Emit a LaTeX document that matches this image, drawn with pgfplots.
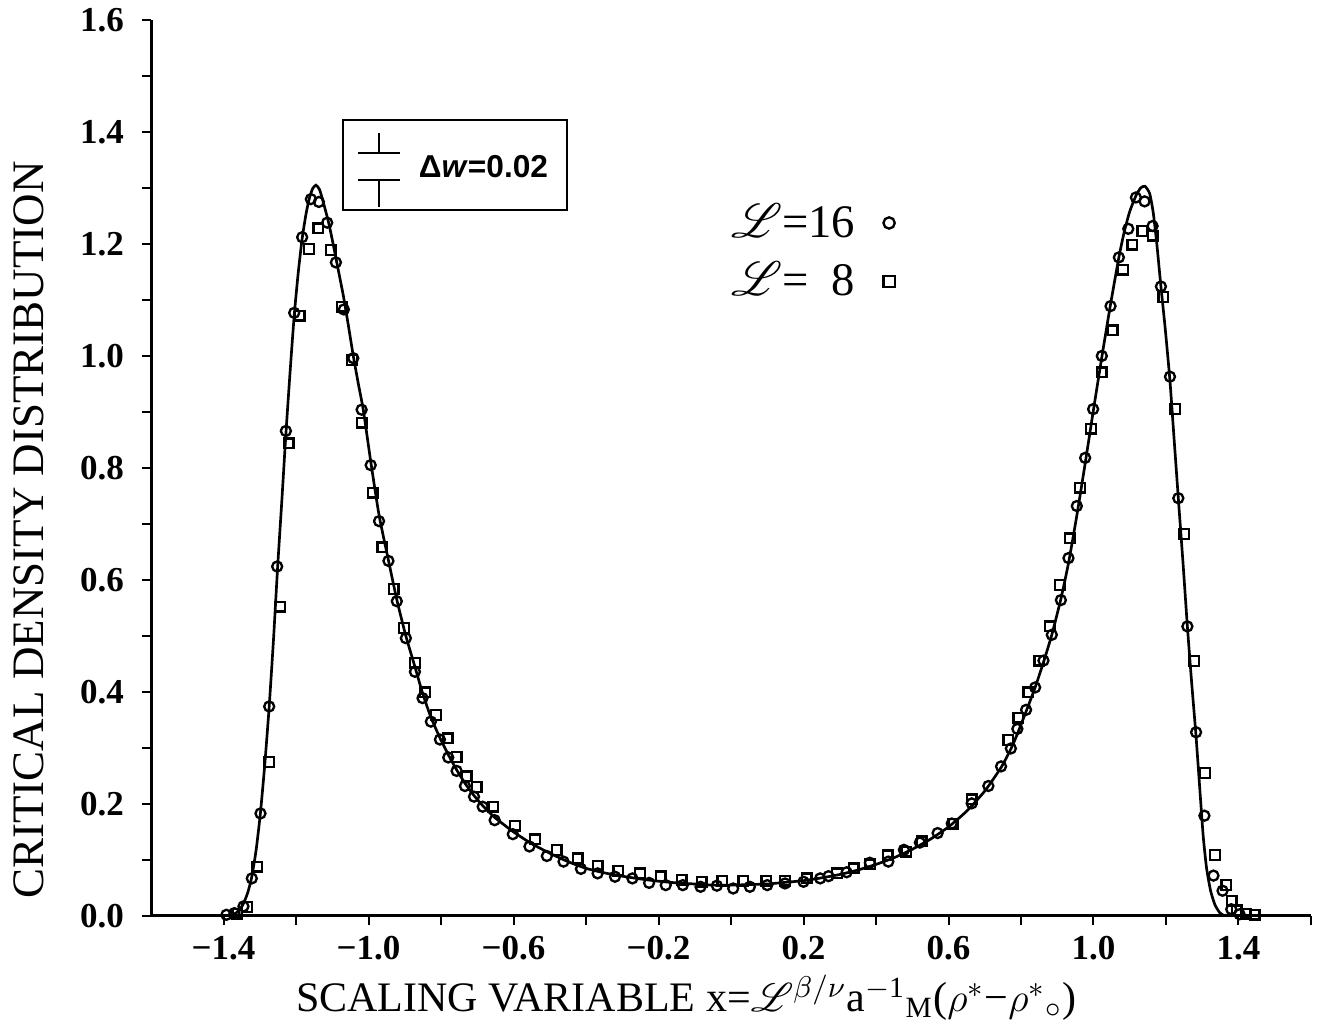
\documentclass[border=0pt]{standalone}
\usepackage{fontspec}
\setmainfont{Liberation Serif}
\newfontfamily\sansfont{Liberation Sans}
\usepackage{mathrsfs}
\usepackage{pgfplots}
\pgfplotsset{compat=1.18}
\usepackage{pgfplotstable}

\pgfplotstableread{
x y
-1.385 0.000
-1.372 0.003
-1.358 0.009
-1.345 0.022
-1.333 0.042
-1.322 0.070
-1.310 0.118
-1.298 0.185
-1.286 0.272
-1.274 0.374
-1.262 0.495
-1.251 0.620
-1.239 0.743
-1.228 0.860
-1.216 0.975
-1.205 1.072
-1.194 1.148
-1.183 1.210
-1.172 1.255
-1.163 1.282
-1.154 1.299
-1.145 1.305
-1.135 1.297
-1.125 1.275
-1.110 1.238
-1.097 1.198
-1.083 1.152
-1.069 1.106
-1.055 1.052
-1.042 1.000
-1.028 0.950
-1.014 0.902
-0.994 0.812
-0.971 0.716
-0.945 0.635
-0.922 0.565
-0.897 0.500
-0.872 0.445
-0.851 0.398
-0.828 0.355
-0.803 0.318
-0.780 0.288
-0.757 0.261
-0.734 0.237
-0.709 0.215
-0.685 0.197
-0.652 0.176
-0.600 0.150
-0.550 0.129
-0.500 0.112
-0.450 0.097
-0.400 0.085
-0.350 0.077
-0.300 0.071
-0.250 0.066
-0.200 0.062
-0.150 0.059
-0.100 0.057
-0.050 0.055
0.000 0.055
0.050 0.056
0.100 0.057
0.150 0.060
0.200 0.063
0.250 0.068
0.300 0.074
0.350 0.082
0.400 0.092
0.450 0.104
0.500 0.119
0.550 0.137
0.600 0.159
0.650 0.187
0.700 0.223
0.745 0.265
0.772 0.298
0.790 0.325
0.814 0.365
0.839 0.408
0.862 0.453
0.885 0.502
0.910 0.566
0.931 0.630
0.954 0.715
0.977 0.808
0.999 0.900
1.023 0.998
1.047 1.092
1.070 1.176
1.085 1.222
1.100 1.258
1.117 1.286
1.130 1.300
1.142 1.303
1.155 1.290
1.165 1.255
1.175 1.198
1.186 1.124
1.198 1.048
1.211 0.955
1.222 0.855
1.234 0.746
1.247 0.630
1.259 0.517
1.271 0.415
1.283 0.320
1.294 0.220
1.303 0.140
1.312 0.085
1.323 0.045
1.335 0.020
1.348 0.006
1.362 0.000
}\curvetable

\pgfplotstableread{
x y
-1.392 0.002
-1.370 0.005
-1.345 0.017
-1.322 0.067
-1.298 0.183
-1.274 0.374
-1.252 0.624
-1.228 0.866
-1.205 1.077
-1.183 1.212
-1.159 1.280
-1.137 1.275
-1.114 1.238
-1.090 1.167
-1.068 1.083
-1.042 0.996
-1.019 0.904
-0.994 0.805
-0.971 0.705
-0.945 0.634
-0.922 0.562
-0.897 0.496
-0.872 0.436
-0.851 0.389
-0.828 0.347
-0.803 0.315
-0.780 0.283
-0.757 0.259
-0.734 0.232
-0.709 0.213
-0.685 0.195
-0.652 0.171
-0.602 0.146
-0.556 0.124
-0.508 0.107
-0.462 0.097
-0.414 0.084
-0.368 0.076
-0.320 0.070
-0.272 0.067
-0.226 0.059
-0.180 0.055
-0.133 0.055
-0.084 0.052
-0.039 0.054
0.006 0.049
0.052 0.052
0.100 0.055
0.149 0.058
0.200 0.061
0.246 0.067
0.269 0.071
0.319 0.078
0.383 0.095
0.434 0.097
0.477 0.118
0.521 0.131
0.570 0.148
0.609 0.165
0.664 0.201
0.710 0.232
0.745 0.267
0.772 0.299
0.790 0.334
0.814 0.368
0.839 0.408
0.862 0.456
0.885 0.502
0.910 0.564
0.931 0.639
0.954 0.732
0.977 0.818
0.999 0.905
1.023 1.000
1.047 1.089
1.070 1.176
1.096 1.227
1.117 1.283
1.141 1.276
1.163 1.232
1.186 1.124
1.211 0.963
1.234 0.746
1.259 0.517
1.283 0.328
1.306 0.179
1.331 0.072
1.356 0.045
1.380 0.012
1.403 0.003
}\circtable

\pgfplotstableread{
x y
-1.362 0.004
-1.335 0.016
-1.307 0.088
-1.274 0.275
-1.244 0.552
-1.220 0.844
-1.190 1.072
-1.164 1.191
-1.138 1.228
-1.104 1.189
-1.074 1.088
-1.046 0.993
-1.019 0.881
-0.989 0.756
-0.962 0.658
-0.931 0.584
-0.902 0.514
-0.872 0.452
-0.844 0.399
-0.814 0.359
-0.782 0.317
-0.757 0.284
-0.729 0.249
-0.702 0.230
-0.656 0.195
-0.596 0.161
-0.541 0.137
-0.481 0.118
-0.423 0.103
-0.368 0.089
-0.311 0.081
-0.251 0.076
-0.194 0.071
-0.136 0.065
-0.081 0.061
-0.024 0.063
0.034 0.063
0.097 0.063
0.149 0.063
0.209 0.067
0.292 0.076
0.338 0.085
0.383 0.092
0.432 0.108
0.484 0.115
0.526 0.133
0.613 0.165
0.664 0.208
0.765 0.314
0.793 0.354
0.820 0.399
0.851 0.456
0.880 0.517
0.908 0.591
0.935 0.674
0.963 0.765
0.993 0.870
1.023 0.971
1.053 1.046
1.081 1.154
1.107 1.199
1.135 1.223
1.163 1.215
1.193 1.105
1.225 0.905
1.251 0.682
1.278 0.455
1.308 0.255
1.335 0.109
1.366 0.055
1.381 0.027
1.395 0.010
1.420 0.004
1.445 0.002
}\sqtable

\begin{document}
\begin{tikzpicture}
\begin{axis}[
  scale only axis,
  width=348pt, height=268.8pt,
  xmin=-1.6, xmax=1.6, ymin=0, ymax=1.6,
  axis lines=left,
  axis line style={-, line width=0.9pt},
  clip=false,
  tick align=outside,
  major tick length=2.6pt, minor tick length=2.6pt,
  tick style={line width=0.6pt, black},
  xtick={-1.4,-1.0,-0.6,-0.2,0.2,0.6,1.0,1.4},
  xticklabels={−1.4,−1.0,−0.6,−0.2,0.2,0.6,1.0,1.4},
  minor xtick={-1.2,-0.8,-0.4,0,0.4,0.8,1.2,1.6},
  ytick={0,0.2,0.4,0.6,0.8,1.0,1.2,1.4,1.6},
  yticklabels={0.0,0.2,0.4,0.6,0.8,1.0,1.2,1.4,1.6},
  minor ytick={0.1,0.3,0.5,0.7,0.9,1.1,1.3,1.5},
  ticklabel style={font=\fontsize{10.5}{12}\selectfont\bfseries},
  yticklabel style={xshift=-2pt},
  xlabel={SCALING VARIABLE x=$\mathscr{L}^{\beta/\nu}$a$^{\mathrm{-1}}{}_{\mathrm{M}}$($\rho^{\ast}$−$\rho^{\ast}{}_{\circ}$)},
  ylabel={CRITICAL DENSITY DISTRIBUTION},
  every axis x label/.style={at={(axis description cs:0.4616,-0.1071)}, anchor=base, font=\fontsize{12.6}{15}\selectfont},
  every axis y label/.style={at={(axis description cs:-0.0931,0.4308)}, anchor=base, rotate=90, font=\fontsize{13.5}{16}\selectfont},
  legend plot pos=right,
  legend cell align=right,
  legend style={draw=none, fill=none, at={(axis cs:-0.02,1.285)}, anchor=north west,
    font=\fontsize{14}{17}\selectfont, row sep=2pt, inner sep=0pt},
  legend image code/.code={\path (0cm,0cm); \draw[#1,mark size=1.7pt] plot coordinates {(0.28cm,0cm)};},
]
\addplot[black, line width=0.8pt, smooth, tension=0.35, forget plot] table {\curvetable};
\addplot[only marks, mark=o, mark size=1.5pt, mark options={line width=0.7pt, black}] table {\circtable};
\addlegendentry{$\mathscr{L}$=16}
\addplot[only marks, mark=square, mark size=1.45pt, mark options={line width=0.7pt, black}] table {\sqtable};
\addlegendentry{$\mathscr{L}$=\phantom{1}8}

% error bar size indicator
\draw[line width=0.6pt] (axis cs:-1.070,1.261) rectangle (axis cs:-0.452,1.421);
\draw[line width=0.6pt] (axis cs:-1.029,1.3625) -- (axis cs:-0.913,1.3625);
\draw[line width=0.6pt] (axis cs:-0.971,1.3625) -- (axis cs:-0.971,1.398);
\draw[line width=0.6pt] (axis cs:-1.029,1.314) -- (axis cs:-0.913,1.314);
\draw[line width=0.6pt] (axis cs:-0.971,1.314) -- (axis cs:-0.971,1.266);
\node[anchor=west, inner sep=0pt, font=\sansfont\bfseries\fontsize{9.5}{11}\selectfont] at (axis cs:-0.863,1.338) {Δ\textit{w}=0.02};

\coordinate (bbl) at (rel axis cs:-0.1302,-0.1205);
\coordinate (btr) at (rel axis cs:1.0121,1.0223);
\end{axis}
\pgfresetboundingbox
\path[use as bounding box] (bbl) rectangle (btr);
\end{tikzpicture}
\end{document}
